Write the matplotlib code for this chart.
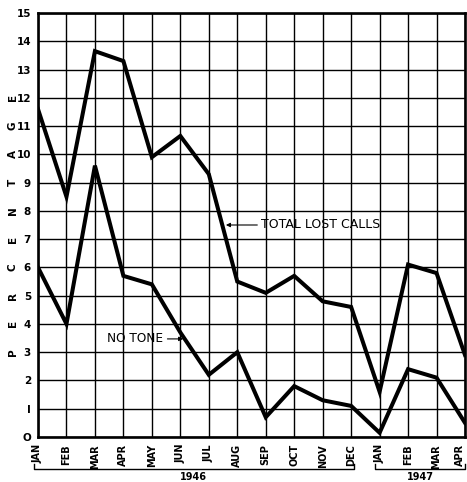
import matplotlib
matplotlib.use("Agg")
import matplotlib.pyplot as plt
from matplotlib.transforms import blended_transform_factory

months = ["JAN", "FEB", "MAR", "APR", "MAY", "JUN", "JUL", "AUG",
          "SEP", "OCT", "NOV", "DEC", "JAN", "FEB", "MAR", "APR"]
total_lost_calls = [11.6, 8.5, 13.65, 13.3, 9.9, 10.65, 9.3, 5.5,
                    5.1, 5.7, 4.8, 4.6, 1.6, 6.1, 5.8, 2.9]
no_tone = [6.0, 4.0, 9.6, 5.7, 5.4, 3.7, 2.2, 3.0,
           0.7, 1.8, 1.3, 1.1, 0.15, 2.4, 2.1, 0.5]
y_ticks = list(range(16))
y_tick_labels = ["O", "I"] + [str(v) for v in range(2, 16)]
axis_word = "PERCENTAGE"
years = ["1946", "1947"]

plt.rcParams["font.family"] = ["DejaVu Sans"]

fig = plt.figure(figsize=(4.67, 4.82), dpi=100)
ax = fig.add_axes([38 / 467, 45 / 482, 427 / 467, 424 / 482])

x = list(range(len(months)))
ax.plot(x, total_lost_calls, color="black", lw=2.9, solid_joinstyle="miter", zorder=3)
ax.plot(x, no_tone, color="black", lw=2.9, solid_joinstyle="miter", zorder=3)

ax.set_xlim(0, len(months) - 1)
ax.set_ylim(0, 15)
ax.set_xticks(x)
ax.set_xticklabels(months, rotation=90, fontsize=7, fontweight="bold")
ax.xaxis.get_ticklabels()[-1].set_horizontalalignment("right")
ax.set_yticks(y_ticks)
ax.set_yticklabels(y_tick_labels, fontsize=7.5, fontweight="bold")
ax.tick_params(axis="x", length=0, pad=5)
ax.tick_params(axis="y", length=0, pad=5)
ax.grid(True, color="black", lw=1.0)
ax.set_axisbelow(True)
for s in ax.spines.values():
    s.set_linewidth(1.9)

# vertical axis word, one letter per grid row
trans_y = blended_transform_factory(fig.transFigure, ax.transData)
for i, ch in enumerate(axis_word):
    ax.text(13 / 467, 3 + i, ch, transform=trans_y, rotation=90,
            ha="center", va="center", fontsize=7.5, fontweight="bold")

# year braces under the month labels
trans_x = blended_transform_factory(ax.transData, fig.transFigure)
def brace(x0, x1, label):
    yb = (482 - 469) / 482
    yt = (482 - 464) / 482
    ax.plot([x0, x0, x1, x1], [yt, yb, yb, yt], color="black", lw=1.0,
            transform=trans_x, clip_on=False)
    ax.text((x0 + x1) / 2, (482 - 477) / 482, label, transform=trans_x,
            ha="center", va="center", fontsize=7, fontweight="bold")

brace(-0.15, 11.1, years[0])
brace(11.85, 15.0, years[1])

ax.annotate("TOTAL LOST CALLS", xy=(6.6, 7.5), xytext=(7.85, 7.5),
            fontsize=9, va="center", ha="left",
            arrowprops=dict(arrowstyle="-|>", color="black", lw=0.8,
                            mutation_scale=6, shrinkA=1, shrinkB=0))
ax.annotate("NO TONE", xy=(5.1, 3.47), xytext=(4.4, 3.47),
            fontsize=8.7, va="center", ha="right",
            arrowprops=dict(arrowstyle="-|>", color="black", lw=0.8,
                            mutation_scale=6, shrinkA=1, shrinkB=0))

fig.savefig("out.png", dpi=100)
